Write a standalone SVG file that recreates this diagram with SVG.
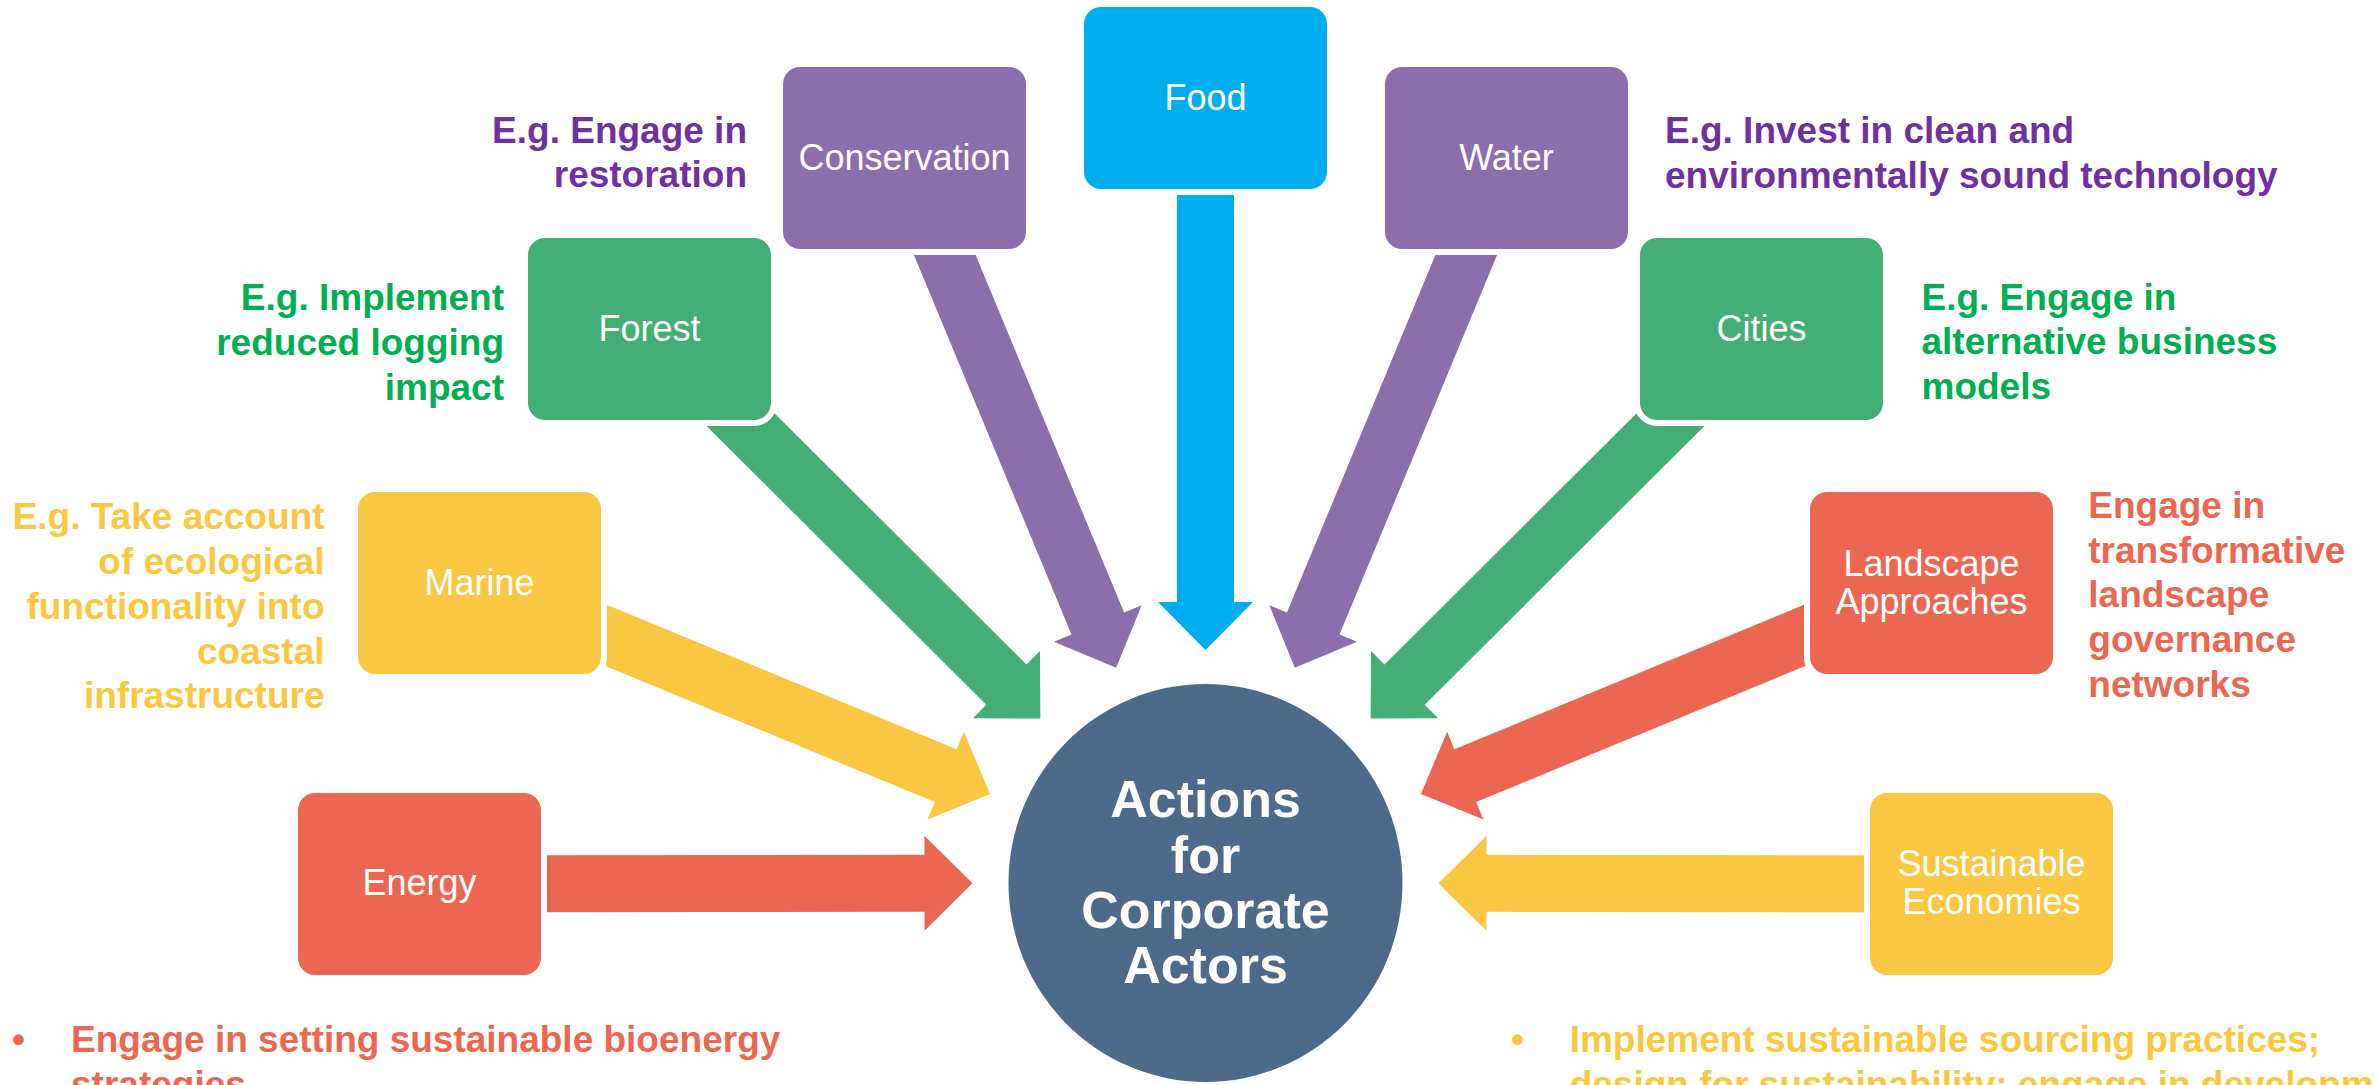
<svg xmlns="http://www.w3.org/2000/svg" width="2374" height="1085" viewBox="0 0 2374 1085">
<defs>
<style>
.box{stroke:#FFFFFF;stroke-width:12;paint-order:stroke;}
.lbl{font-family:"Liberation Sans",Arial,sans-serif;font-size:36px;fill:#FFFFFF;text-anchor:middle;}
.ann{font-family:"Liberation Sans",Arial,sans-serif;font-size:37px;font-weight:bold;}
.end{text-anchor:end;}
.hub{font-family:"Liberation Sans",Arial,sans-serif;font-size:52px;font-weight:bold;fill:#FFFFFF;text-anchor:middle;}
.blue{fill:#00AEEF;}
.purple{fill:#8B6FAD;}
.green{fill:#44AF74;}
.yellow{fill:#FAC743;}
.coral{fill:#EC6751;}
.tpurple{fill:#7030A0;}
.tgreen{fill:#00B050;}
.tyellow{fill:#FBC740;}
.tcoral{fill:#EC6751;}
</style>
<polygon id="arr" points="0,0 -48,-47.5 -48,-28.5 -552,-28.5 -552,28.5 -48,28.5 -48,47.5"/>
</defs>
<rect x="0" y="0" width="2374" height="1085" fill="#FFFFFF"/>

<g id="connectors">
<use href="#arr" class="blue" transform="translate(1205.5,650) rotate(90)"/>
<use href="#arr" class="purple" transform="translate(1116.2,667.8) rotate(67.45)"/>
<use href="#arr" class="purple" transform="translate(1294.8,667.8) rotate(112.55)"/>
<use href="#arr" class="green" transform="translate(1040.4,718.5) rotate(44.9)"/>
<use href="#arr" class="green" transform="translate(1370.6,718.5) rotate(135.1)"/>
<use href="#arr" class="yellow" transform="translate(990.1,794) rotate(22.45)"/>
<use href="#arr" class="coral" transform="translate(1420.9,794) rotate(157.55)"/>
<use href="#arr" class="coral" transform="translate(972.5,883.3) rotate(-0.07)"/>
<use href="#arr" class="yellow" transform="translate(1438.5,883.3) rotate(180.07)"/>
</g>

<g id="hub">
<ellipse cx="1205.5" cy="883" rx="197" ry="199" fill="#4D6A8B"/>
<text class="hub" x="1205.5" y="817.3">Actions</text>
<text class="hub" x="1205.5" y="873.3">for</text>
<text class="hub" x="1205.5" y="928.3">Corporate</text>
<text class="hub" x="1205.5" y="983.3">Actors</text>
</g>

<g id="food">
<rect class="box blue" x="1084" y="7" width="243" height="182" rx="17"/>
<text class="lbl" x="1205.5" y="109.5">Food</text>
</g>

<g id="conservation">
<rect class="box purple" x="783" y="67" width="243" height="182" rx="17"/>
<text class="lbl" x="904.5" y="169.5">Conservation</text>
<text class="ann tpurple end" x="747" y="142.5">E.g. Engage in</text>
<text class="ann tpurple end" x="747" y="187">restoration</text>
</g>

<g id="water">
<rect class="box purple" x="1385" y="67" width="243" height="182" rx="17"/>
<text class="lbl" x="1506.5" y="169.5">Water</text>
<text class="ann tpurple" x="1665" y="142.5">E.g. Invest in clean and</text>
<text class="ann tpurple" x="1665" y="187.5">environmentally sound technology</text>
</g>

<g id="forest">
<rect class="box green" x="528" y="238" width="243" height="182" rx="17"/>
<text class="lbl" x="649.5" y="340.5">Forest</text>
<text class="ann tgreen end" x="504" y="310">E.g. Implement</text>
<text class="ann tgreen end" x="504" y="355">reduced logging</text>
<text class="ann tgreen end" x="504" y="399.5">impact</text>
</g>

<g id="cities">
<rect class="box green" x="1640" y="238" width="243" height="182" rx="17"/>
<text class="lbl" x="1761.5" y="340.5">Cities</text>
<text class="ann tgreen" x="1921.5" y="309.5">E.g. Engage in</text>
<text class="ann tgreen" x="1921.5" y="354">alternative business</text>
<text class="ann tgreen" x="1921.5" y="398.5">models</text>
</g>

<g id="marine">
<rect class="box yellow" x="358" y="492" width="243" height="182" rx="17"/>
<text class="lbl" x="479.5" y="594.5">Marine</text>
<text class="ann tyellow end" x="324.5" y="529.3">E.g. Take account</text>
<text class="ann tyellow end" x="324.5" y="574.3">of ecological</text>
<text class="ann tyellow end" x="324.5" y="619.3">functionality into</text>
<text class="ann tyellow end" x="324.5" y="664">coastal</text>
<text class="ann tyellow end" x="324.5" y="708.3">infrastructure</text>
</g>

<g id="landscape">
<rect class="box coral" x="1810" y="492" width="243" height="182" rx="17"/>
<text class="lbl" x="1931.5" y="575.5">Landscape</text>
<text class="lbl" x="1931.5" y="613.5">Approaches</text>
<text class="ann tcoral" x="2088.3" y="518.3">Engage in</text>
<text class="ann tcoral" x="2088.3" y="562.7">transformative</text>
<text class="ann tcoral" x="2088.3" y="607.3">landscape</text>
<text class="ann tcoral" x="2088.3" y="651.7">governance</text>
<text class="ann tcoral" x="2088.3" y="696.5">networks</text>
</g>

<g id="energy">
<rect class="box coral" x="298" y="793" width="243" height="182" rx="17"/>
<text class="lbl" x="419.5" y="895">Energy</text>
<text class="ann tcoral" x="12" y="1052.3">•</text>
<text class="ann tcoral" x="71" y="1052.3">Engage in setting sustainable bioenergy</text>
<text class="ann tcoral" x="71" y="1097">strategies</text>
</g>

<g id="sustainable-economies">
<rect class="box yellow" x="1870" y="793" width="243" height="182" rx="17"/>
<text class="lbl" x="1991.5" y="876">Sustainable</text>
<text class="lbl" x="1991.5" y="914">Economies</text>
<text class="ann tyellow" x="1511" y="1052.3">•</text>
<text class="ann tyellow" x="1569.7" y="1052.3">Implement sustainable sourcing practices;</text>
<text class="ann tyellow" x="1569.7" y="1097">design for sustainability; engage in developm</text>
</g>
</svg>
